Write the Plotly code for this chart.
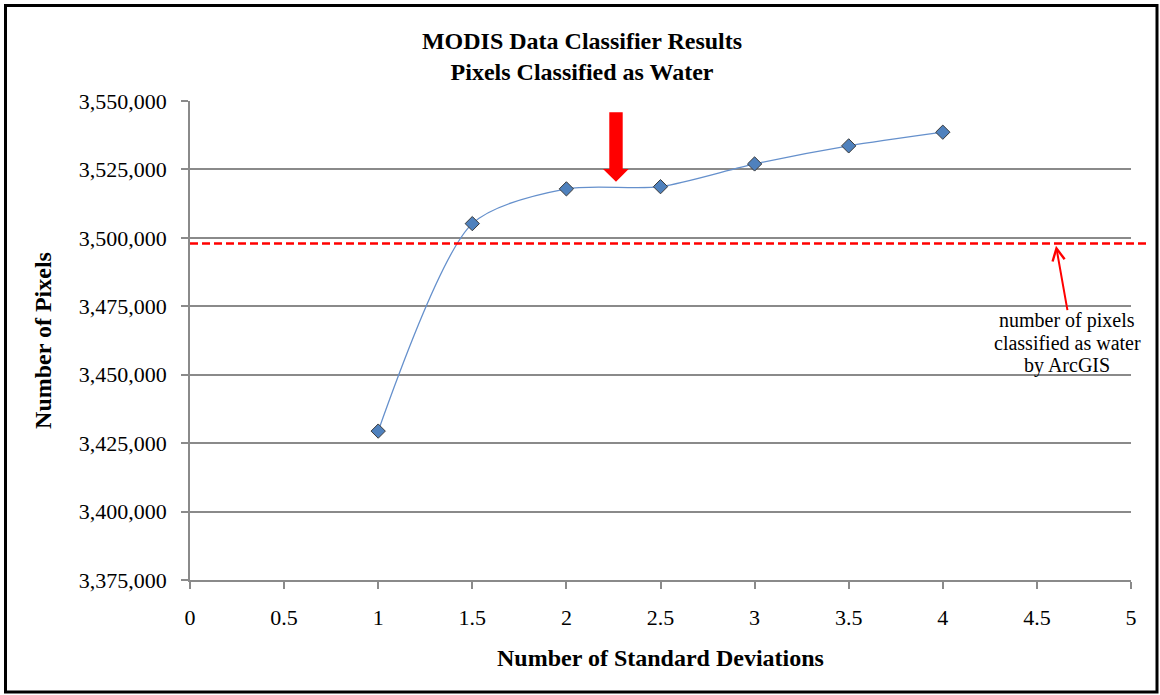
import plotly.graph_objects as go

# ---- data ----
std_devs = [1, 1.5, 2, 2.5, 3, 3.5, 4]
pixels_water = [3429400, 3505200, 3517900, 3518700, 3527000, 3533600, 3538600]
arcgis_pixels = 3497900
x_ticks = [0, 0.5, 1, 1.5, 2, 2.5, 3, 3.5, 4, 4.5, 5]
y_ticks = [3375000, 3400000, 3425000, 3450000, 3475000, 3500000, 3525000, 3550000]

W, H = 1160, 695
L, R, T, B = 190, 29, 101, 115
PW, PH = W - L - R, H - T - B

def px(xp):
    return (xp - L) / PW

def py(yp):
    return (H - B - yp) / PH

SERIF = "Liberation Serif, Times New Roman, serif"
GRID = "#8a8a8a"

fig = go.Figure()
fig.add_trace(go.Scatter(
    x=std_devs, y=pixels_water, mode="lines+markers",
    line=dict(color="#6590cc", width=1.3, shape="spline", smoothing=0.75),
    marker=dict(symbol="diamond", size=11, color="#4f81bd",
                line=dict(color="#3a3a3a", width=1)),
    showlegend=False, cliponaxis=False,
))

shapes = []
# ArcGIS reference dashed line
shapes.append(dict(type="line", xref="paper", yref="y", x0=0, x1=px(1148),
                   y0=arcgis_pixels, y1=arcgis_pixels,
                   line=dict(color="#ff0000", width=2.5, dash="8px,4px"), layer="above"))
# big red arrow
pts = [(609.3, 112.3), (622.7, 112.3), (622.7, 169), (628.7, 169), (616, 181.7),
       (603, 169), (609.3, 169)]
path = "M " + " L ".join(f"{px(a):.5f},{py(b):.5f}" for a, b in pts) + " Z"
shapes.append(dict(type="path", xref="paper", yref="paper", path=path,
                   fillcolor="#ff0000", line=dict(color="#ff0000", width=0), layer="above"))
# outer frame
shapes.append(dict(type="rect", xref="paper", yref="paper",
                   x0=px(5.5), x1=px(1157), y0=py(5.5), y1=py(692),
                   line=dict(color="#000000", width=3), layer="above"))

annotations = []
# small arrow pointing to the dashed line
annotations.append(dict(x=px(1056), y=py(245.7), xref="paper", yref="paper",
                        text="", showarrow=True, arrowhead=5, arrowsize=1.2,
                        arrowwidth=2, arrowcolor="#ff0000",
                        ax=11.7, ay=66, axref="pixel", ayref="pixel"))
note_lines = ["number of pixels", "classified as water", "by ArcGIS"]
for i, t in enumerate(note_lines):
    annotations.append(dict(x=px(1067), y=py(320 + 22.5 * i), xref="paper", yref="paper",
                            text=t, showarrow=False, xanchor="center", yanchor="middle",
                            font=dict(family=SERIF, size=20, color="#000000")))

fig.update_layout(
    width=W, height=H, margin=dict(l=L, r=R, t=T, b=B),
    paper_bgcolor="white", plot_bgcolor="white",
    title=dict(text="<b>MODIS Data Classifier Results<br>Pixels Classified as Water</b>",
               x=582 / W, xref="container", xanchor="center",
               y=1 - 48.5 / H, yref="container", yanchor="middle",
               font=dict(family=SERIF, size=24, color="#000000")),
    font=dict(family=SERIF, color="#000000"),
    shapes=shapes, annotations=annotations,
    xaxis=dict(range=[0, 5], tickvals=x_ticks, ticktext=[f"{v:g}" for v in x_ticks],
               showgrid=False, zeroline=False, showline=True, linecolor=GRID, linewidth=1.5,
               ticks="outside", ticklen=7, tickcolor=GRID, tickwidth=1.5,
               tickfont=dict(family=SERIF, size=22), ticklabelstandoff=10,
               title=dict(text="<b>Number of Standard Deviations</b>", standoff=20,
                          font=dict(family=SERIF, size=24))),
    yaxis=dict(range=[3375000, 3550000], tickvals=y_ticks,
               ticktext=[f"{v:,}" for v in y_ticks],
               showgrid=True, gridcolor=GRID, gridwidth=1.5, zeroline=False,
               showline=True, linecolor=GRID, linewidth=1.5,
               ticks="outside", ticklen=7, tickcolor=GRID, tickwidth=1.5,
               tickfont=dict(family=SERIF, size=22), ticklabelstandoff=10,
               title=dict(text="<b>Number of Pixels</b>", standoff=20,
                          font=dict(family=SERIF, size=24))),
)
fig.write_html("out.html")
